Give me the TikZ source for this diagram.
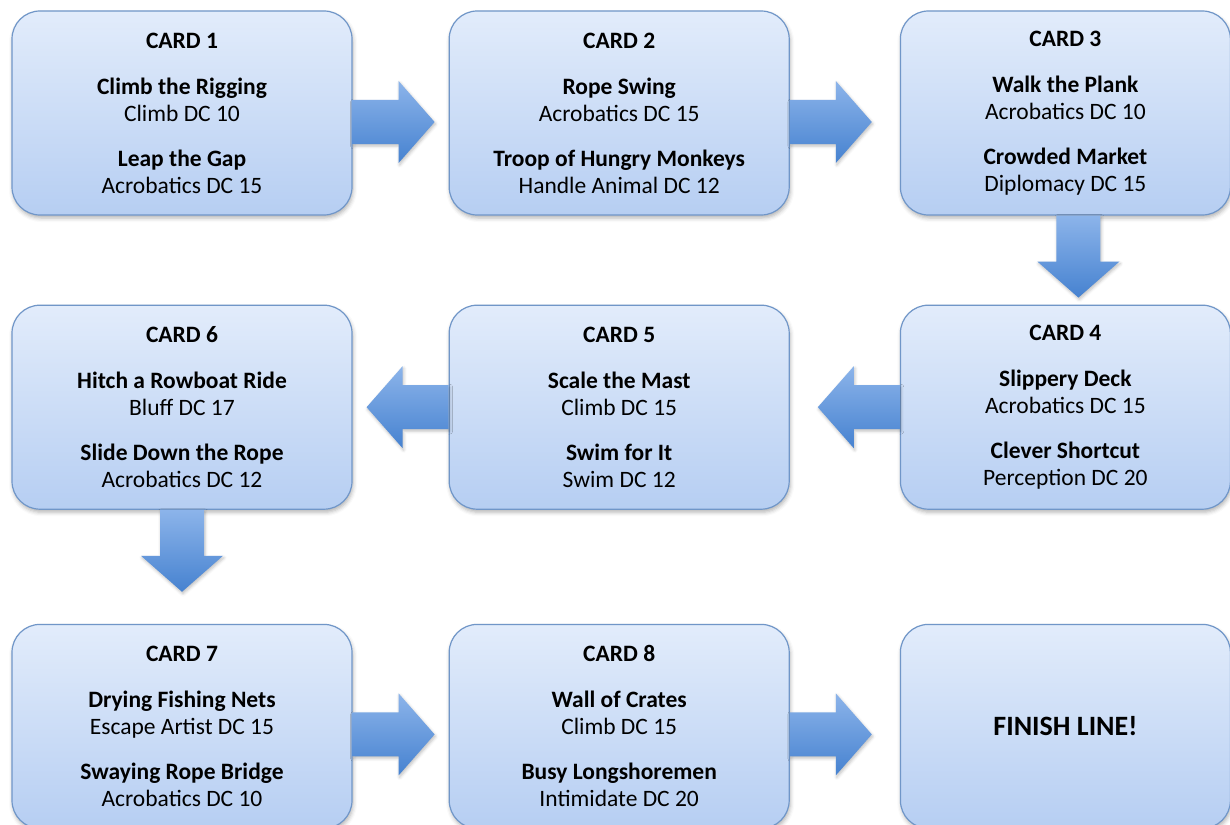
\documentclass[tikz,border=0pt]{standalone}
\usepackage{fontspec}
\setmainfont{Carlito}
\usetikzlibrary{positioning,shadows.blur}

\definecolor{cardtop}{RGB}{226,236,251}
\definecolor{cardbot}{RGB}{182,206,242}
\definecolor{cardline}{RGB}{112,150,200}
\definecolor{arrowtop}{RGB}{140,180,234}
\definecolor{arrowbot}{RGB}{70,130,208}

\tikzset{
  card/.style={draw=cardline, line width=1.2pt, rounded corners=28pt,
    top color=cardtop, bottom color=cardbot,
    minimum width=340pt, minimum height=204pt, inner sep=0pt,
    align=center, font=\fontsize{23.5}{27}\selectfont,
    blur shadow={shadow xshift=1pt, shadow yshift=-3pt, shadow opacity=30, shadow blur radius=4pt}},
  narrow/.style={minimum width=330pt},
  flowarrow/.style={top color=arrowtop, bottom color=arrowbot,
    blur shadow={shadow xshift=1pt, shadow yshift=-2pt, shadow opacity=25, shadow blur radius=3pt}}
}

\newcommand{\flowarrow}[2]{%
  \begin{scope}[shift={(#1)},rotate=#2]
    \path[flowarrow] (0,-22) -- (46,-22) -- (46,-41) -- (82,0) -- (46,41) -- (46,22) -- (0,22) -- cycle;
  \end{scope}}

\begin{document}
\begin{tikzpicture}[x=1pt,y=1pt]
  \useasboundingbox (0,0) rectangle (1230,-824);

  % first row
  \node[card] (c1) at (182,-113) {\textbf{CARD 1}\\[19pt]
    \textbf{Climb the Rigging}\\ Climb DC 10\\[18pt]
    \textbf{Leap the Gap}\\ Acrobatics DC 15};
  \node[card, right=96pt of c1] (c2) {\textbf{CARD 2}\\[19pt]
    \textbf{Rope Swing}\\ Acrobatics DC 15\\[18pt]
    \textbf{Troop of Hungry Monkeys}\\ Handle Animal DC 12};
  \node[card, narrow, right=110pt of c2] (c3) {\textbf{CARD 3}\\[19pt]
    \textbf{Walk the Plank}\\ Acrobatics DC 10\\[18pt]
    \textbf{Crowded Market}\\ Diplomacy DC 15};

  % second row, right to left
  \node[card, narrow, below=89pt of c3] (c4) {\textbf{CARD 4}\\[19pt]
    \textbf{Slippery Deck}\\ Acrobatics DC 15\\[18pt]
    \textbf{Clever Shortcut}\\ Perception DC 20};
  \node[card, left=110pt of c4] (c5) {\textbf{CARD 5}\\[19pt]
    \textbf{Scale the Mast}\\ Climb DC 15\\[18pt]
    \textbf{Swim for It}\\ Swim DC 12};
  \node[card, left=96pt of c5] (c6) {\textbf{CARD 6}\\[19pt]
    \textbf{Hitch a Rowboat Ride}\\ Bluff DC 17\\[18pt]
    \textbf{Slide Down the Rope}\\ Acrobatics DC 12};

  % third row
  \node[card, below=114pt of c6] (c7) {\textbf{CARD 7}\\[19pt]
    \textbf{Drying Fishing Nets}\\ Escape Artist DC 15\\[18pt]
    \textbf{Swaying Rope Bridge}\\ Acrobatics DC 10};
  \node[card, right=96pt of c7] (c8) {\textbf{CARD 8}\\[19pt]
    \textbf{Wall of Crates}\\ Climb DC 15\\[18pt]
    \textbf{Busy Longshoremen}\\ Intimidate DC 20};
  \node[card, narrow, right=110pt of c8, font=\fontsize{28}{32}\selectfont] (c9) {\textbf{FINISH LINE!}};

  % arrows
  \flowarrow{[yshift=-9pt]c1.east}{0}
  \flowarrow{[yshift=-9pt]c2.east}{0}
  \flowarrow{[xshift=13pt]c3.south}{-90}
  \flowarrow{c4.west}{180}
  \flowarrow{c5.west}{180}
  \flowarrow{c6.south}{-90}
  \flowarrow{[yshift=-8pt]c7.east}{0}
  \flowarrow{[yshift=-8pt]c8.east}{0}
\end{tikzpicture}
\end{document}
